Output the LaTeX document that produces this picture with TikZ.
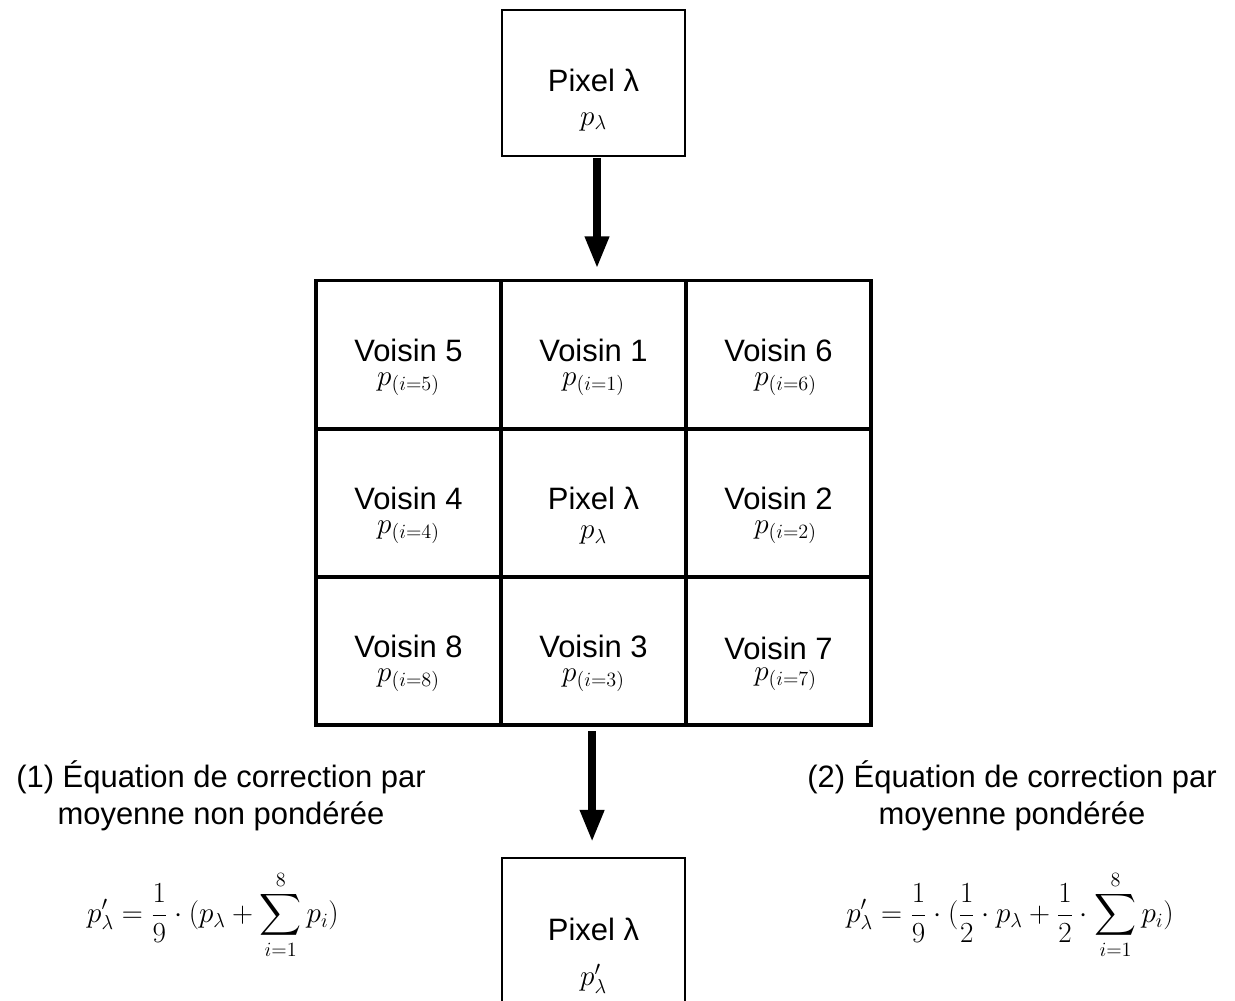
\documentclass[tikz,border=0pt]{standalone}
\usepackage[no-math]{fontspec}
\setmainfont{Liberation Sans}
\usepackage{amsmath}
\usetikzlibrary{arrows.meta, positioning}

\begin{document}
\begin{tikzpicture}[x=0.025cm, y=-0.025cm, font=\fontsize{22}{26}\selectfont,
            box/.style={draw, line width=1.4pt, minimum width=4.575cm, minimum height=3.65cm, inner sep=0pt},
            cell/.style={draw, line width=2.8pt, minimum width=4.625cm, minimum height=3.7cm, inner sep=0pt},
            lbl/.style={align=center, inner sep=0pt, yshift=-9pt, font=\fontsize{22}{17}\selectfont},
            txt/.style={align=center, inner sep=0pt},
            arr/.style={line width=5.7pt, -{Triangle[length=23pt, width=16pt]}}]
            \useasboundingbox (0,0) rectangle (1235,1000);
            % input pixel
            \node[box] (pin) at (593.5,83) {};
            \node[txt, font=\fontsize{22}{24}\selectfont] (tin) at (593.5,100) {Pixel λ\\$p_{\lambda}$};
            % 3x3 neighbourhood
            \node[cell] (v5) at (408.5,354.5) {};
            \node[cell] (v1) at (593.5,354.5) {};
            \node[cell] (v6) at (778.5,354.5) {};
            \node[cell] (v4) at (408.5,503)   {};
            \node[cell] (pc) at (593.5,503)   {};
            \node[cell] (v2) at (778.5,503)   {};
            \node[cell] (v8) at (408.5,651)   {};
            \node[cell] (v3) at (593.5,651)   {};
            \node[cell] (v7) at (778.5,651)   {};
            \node[lbl] (t5) at (v5) {Voisin 5\\$p_{(i=5)}$};
            \node[lbl] (t1) at (v1) {Voisin 1\\$p_{(i=1)}$};
            \node[lbl] (t6) at (v6) {Voisin 6\\\hspace{10pt}$p_{(i=6)}$};
            \node[lbl] (t4) at (v4) {Voisin 4\\$p_{(i=4)}$};
            \node[lbl, font=\fontsize{22}{21}\selectfont] (tc) at (pc) {Pixel λ\\$p_{\lambda}$};
            \node[lbl] (t2) at (v2) {Voisin 2\\\hspace{10pt}$p_{(i=2)}$};
            \node[lbl] (t8) at (v8) {Voisin 8\\$p_{(i=8)}$};
            \node[lbl] (t3) at (v3) {Voisin 3\\$p_{(i=3)}$};
            \node[lbl, font=\fontsize{22}{15}\selectfont] (t7) at (v7) {Voisin 7\\\hspace{10pt}$p_{(i=7)}$};
            % corrected pixel
            \node[box, minimum height=3.75cm] (pout) at (593.5,933) {};
            \node[txt, font=\fontsize{22}{32}\selectfont] (tout) at (593.5,956) {Pixel λ\\$p'_{\lambda}$};
            \draw[arr, shorten <=1pt, shorten >=7pt] ([xshift=2.5pt]pin.south) -- ([xshift=2.5pt]v1.north);
            \draw[arr, shorten <=3pt, shorten >=10.5pt] ([xshift=-1pt]v3.south) -- ([xshift=-1pt]pout.north);
            % equations
            \node[txt] (d1) at (221,796) {(1) Équation de correction par\\moyenne non pondérée};
            \node[txt] (d2) at (1012,796) {(2) Équation de correction par\\moyenne pondérée};
            \node[txt] (e1) at (213,915) {$\displaystyle p'_{\lambda}=\frac{1}{9}\cdot(p_{\lambda}+\sum_{i=1}^{8}p_i)$};
            \node[txt] (e2) at (1010,915) {$\displaystyle p'_{\lambda}=\frac{1}{9}\cdot(\frac{1}{2}\cdot p_{\lambda}+\frac{1}{2}\cdot\sum_{i=1}^{8}p_i)$};
        \end{tikzpicture}
\end{document}
